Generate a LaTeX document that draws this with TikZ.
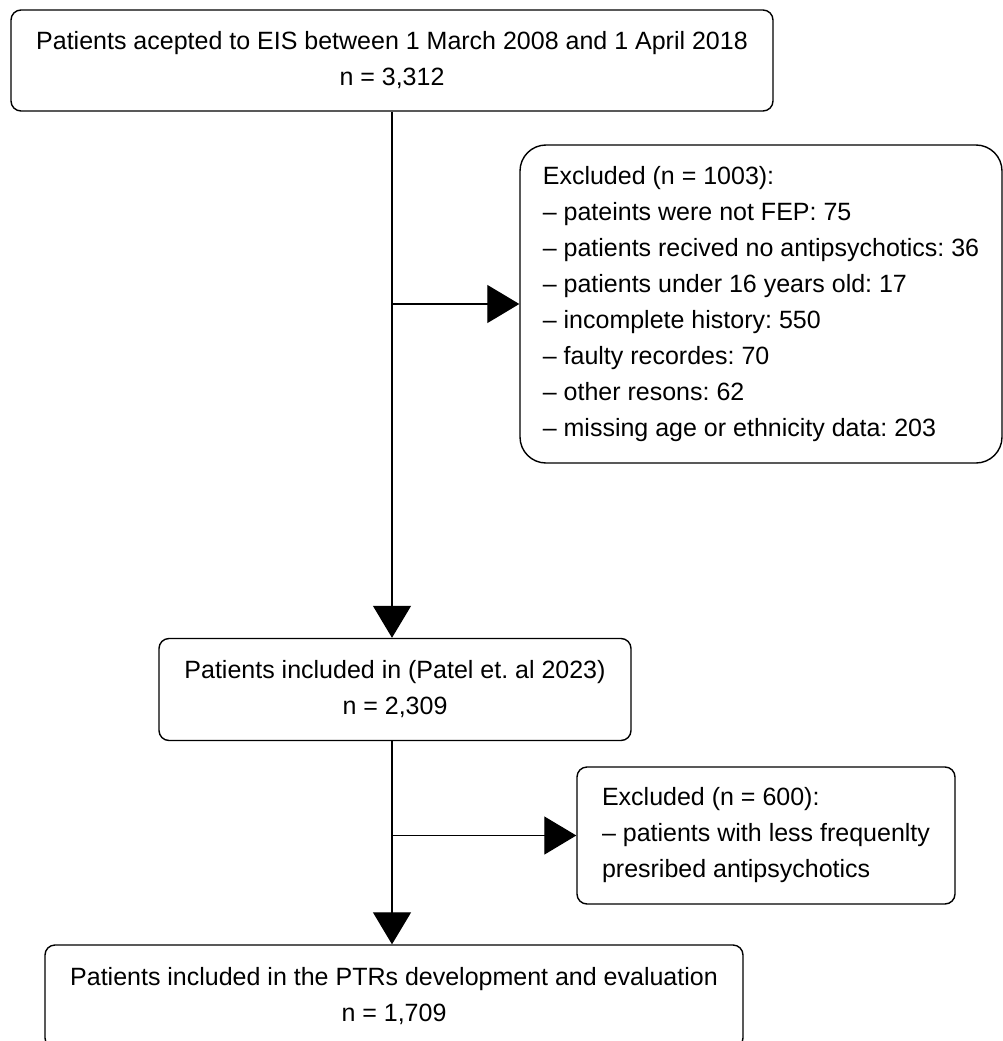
\documentclass[tikz,border=0pt]{standalone}
\usepackage{fontspec}
\setmainfont{Liberation Sans}
\frenchspacing
\usetikzlibrary{arrows.meta}
\tikzset{
  box/.style={draw=black, line width=1.4pt, rounded corners=10pt, inner sep=0pt,
    font=\fontsize{25}{36}\selectfont\frenchspacing, text=black},
  bigbox/.style={box, rounded corners=26pt},
  arr/.style={line width=1.3pt, -{Triangle[length=32pt,width=38pt]}},
}
\begin{document}
\begin{tikzpicture}[x=1pt,y=-1pt]
\useasboundingbox (0,0) rectangle (1003,1041);
\clip (0,0) rectangle (1003,1041);
\node[box, minimum width=762pt, minimum height=101pt, align=center] (top) at (392,60.5)
  {Patients acepted to EIS between 1 March 2008 and 1 April 2018\\n = 3,312};
\node[bigbox, minimum width=482pt, minimum height=318pt, inner xsep=22pt, align=left] (excl1) at (761,304)
  {Excluded (n = 1003):\\
   – pateints were not FEP: 75\\
   – patients recived no antipsychotics: 36\\
   – patients under 16 years old: 17\\
   – incomplete history: 550\\
   – faulty recordes: 70\\
   – other resons: 62\\
   – missing age or ethnicity data: 203};
\node[box, minimum width=472pt, minimum height=102pt, align=center] (mid) at (395,689.5)
  {Patients included in (Patel et. al 2023)\\n = 2,309};
\node[box, minimum width=378pt, minimum height=137pt, inner xsep=23pt, align=left] (excl2) at (766,835.5)
  {Excluded (n = 600):\\
   – patients with less frequenlty\\
   presribed antipsychotics};
\node[box, minimum width=698pt, minimum height=103pt, align=center] (bottom) at (394,996.5)
  {Patients included in the PTRs development and evaluation\\n = 1,709};
\coordinate (b1) at (392,304);
\coordinate (b2) at (392,835.5);
\draw[arr] (top.south -| b1) -- (b1 |- mid.north);
\draw[arr] (b1) -- (excl1.west);
\draw[arr] (b2 |- mid.south) -- (b2 |- bottom.north);
\draw[arr] (b2) -- (excl2.west);
\end{tikzpicture}
\end{document}
